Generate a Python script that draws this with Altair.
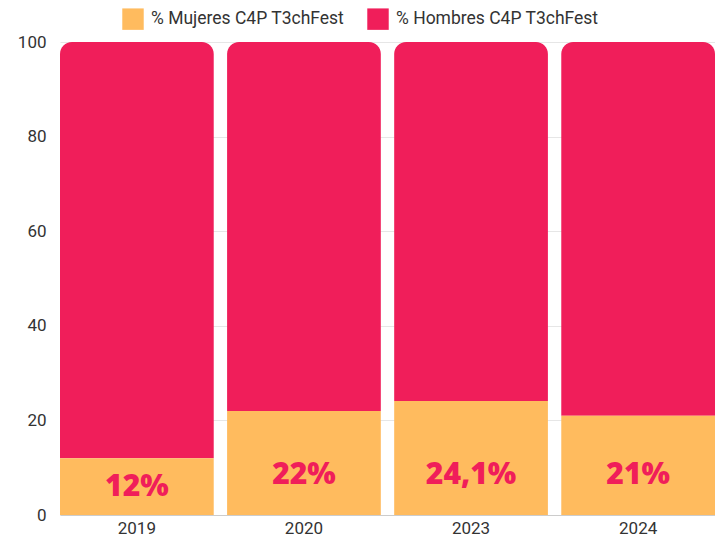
import altair as alt
import pandas as pd

years = ["2019", "2020", "2023", "2024"]
mujeres = [12, 22, 24.1, 21]
hombres = [88, 78, 75.9, 79]
etiquetas = ["12%", "22%", "24,1%", "21%"]
series = ["% Mujeres C4P T3chFest", "% Hombres C4P T3chFest"]
colores = ["#FFBB5E", "#F01E5A"]

rows = []
for y, m, h in zip(years, mujeres, hombres):
    rows.append({"year": y, "serie": series[0], "value": m, "orden": 0})
    rows.append({"year": y, "serie": series[1], "value": h, "orden": 1})
df = pd.DataFrame(rows)
lab = pd.DataFrame({"year": years, "value": mujeres, "label": etiquetas})

xenc = alt.X("year:N", title=None,
             scale=alt.Scale(paddingInner=0.08, paddingOuter=0),
             axis=alt.Axis(labelAngle=0, ticks=False, labelFontSize=17,
                           labelColor="#333333", labelFont="Roboto",
                           domainColor="#cccccc", labelPadding=5, grid=False))

yaxis = alt.Axis(values=[0, 20, 40, 60, 80, 100], ticks=False, domain=False,
                 labelFontSize=17, labelColor="#333333", labelFont="Roboto",
                 labelPadding=14, gridColor="#e6e6e6")

colenc = alt.Color("serie:N", scale=alt.Scale(domain=series, range=colores),
                   legend=alt.Legend(title=None, orient="none", direction="horizontal",
                                     legendX=62, legendY=-34, symbolType="square",
                                     symbolSize=460, symbolStrokeWidth=0,
                                     labelFontSize=17.5, labelFont="Roboto",
                                     labelColor="#333333", columnPadding=22,
                                     labelOffset=7, labelLimit=400))

base = alt.Chart(df).transform_stack(
    stack="value", groupby=["year"], as_=["y0", "y1"],
    sort=[alt.SortField("orden", order="ascending")],
)

women = base.transform_filter("datum.orden == 0").mark_bar().encode(
    x=xenc,
    y=alt.Y("y1:Q", title=None, scale=alt.Scale(domain=[0, 100]), axis=yaxis),
    y2="y0:Q",
    color=colenc,
)
men = base.transform_filter("datum.orden == 1").mark_bar(
    cornerRadiusTopLeft=12, cornerRadiusTopRight=12
).encode(
    x=xenc,
    y=alt.Y("y1:Q"),
    y2="y0:Q",
    color=colenc,
)

text = alt.Chart(lab).transform_calculate(
    ypos="min(datum.value / 2, 8.4)"
).mark_text(font="Open Sans", fontWeight=800, fontSize=30, color="#F01E5A",
            baseline="middle", align="center").encode(
    x=alt.X("year:N"),
    y=alt.Y("ypos:Q"),
    text="label:N",
)

chart = alt.layer(men, women, text).properties(
    width=655, height=473,
    padding={"left": 9, "top": 0, "right": 0, "bottom": 0},
).configure_view(stroke=None)

chart.save("out.html", embed_options={"renderer": "svg", "actions": False})
